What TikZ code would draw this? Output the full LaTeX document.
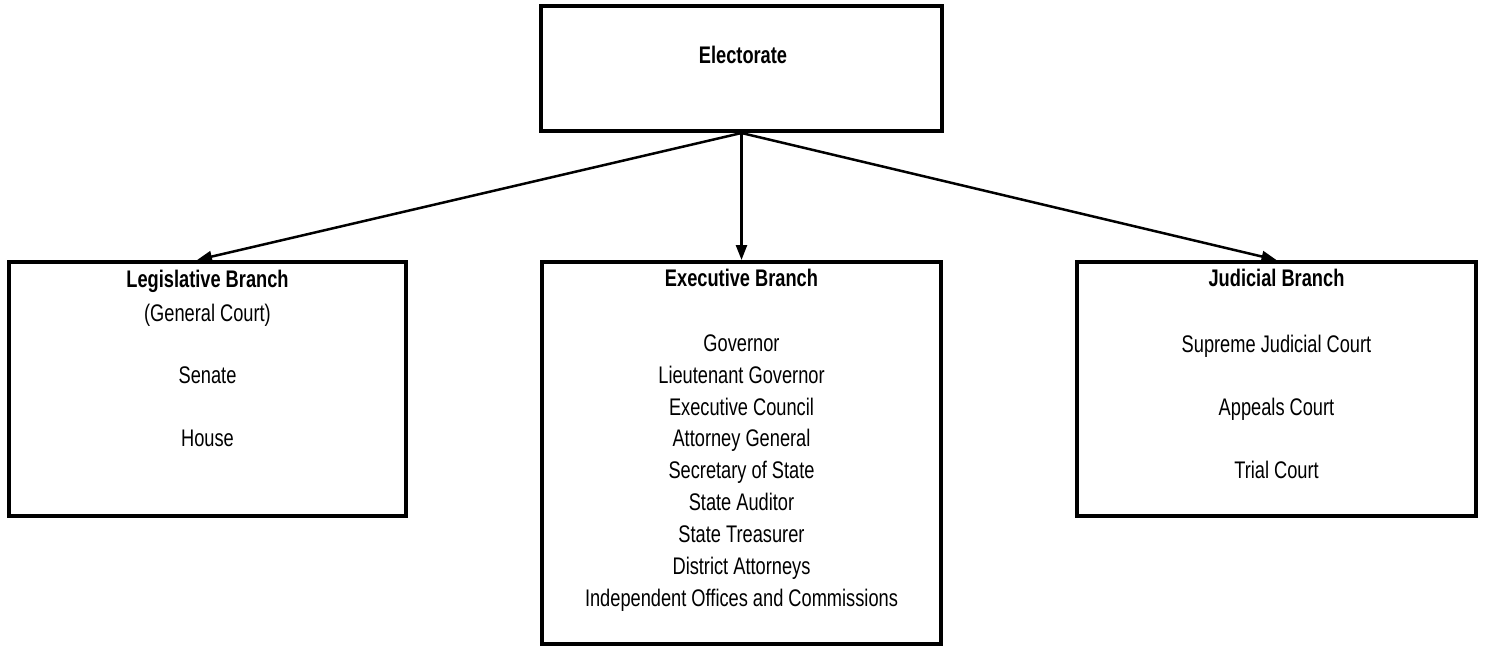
\documentclass[tikz,border=0pt]{standalone}
\usepackage{fontspec}
\setmainfont[FakeStretch=0.76]{Liberation Sans}
\usetikzlibrary{arrows.meta}
\begin{document}
\begin{tikzpicture}[x=1pt,y=-1pt,
  box/.style={draw=black, line width=4pt, rectangle, inner sep=0pt, fill=white},
  lbl/.style={anchor=base, inner sep=0pt, font=\fontsize{24}{30}\selectfont},
  ttl/.style={anchor=base, inner sep=0pt, font=\fontsize{24}{30}\selectfont\bfseries},
  arr/.style={line width=2.5pt, -{Triangle[length=15pt,width=11pt]}}]
\useasboundingbox (0,0) rectangle (1485,648);
% boxes
\node[box, minimum width=401pt, minimum height=125pt] (elect) at (741.5,68.5) {};
\node[box, minimum width=397pt, minimum height=254pt] (leg) at (207.5,389) {};
\node[box, minimum width=399pt, minimum height=382pt] (exec) at (741.5,453) {};
\node[box, minimum width=399pt, minimum height=254pt] (jud) at (1276.5,389) {};
% texts
\node[ttl] (telect) at (743,63) {Electorate};
\node[ttl] (tleg) at (207.5,287) {Legislative Branch};
\node[lbl] (tgc) at (207.5,321) {(General Court)};
\node[lbl] (tsen) at (207.5,383) {Senate};
\node[lbl] (thouse) at (207.5,446) {House};
\node[ttl] (texec) at (741.5,286) {Executive Branch};
\node[lbl] (e1) at (741.5,351) {Governor};
\node[lbl] (e2) at (741.5,383) {Lieutenant Governor};
\node[lbl] (e3) at (741.5,415) {Executive Council};
\node[lbl] (e4) at (741.5,446.5) {Attorney General};
\node[lbl] (e5) at (741.5,478) {Secretary of State};
\node[lbl] (e6) at (741.5,510) {State Auditor};
\node[lbl] (e7) at (741.5,542) {State Treasurer};
\node[lbl] (e8) at (741.5,574) {District Attorneys};
\node[lbl] (e9) at (741.5,606) {Independent Offices and Commissions};
\node[ttl] (tjud) at (1276.5,286) {Judicial Branch};
\node[lbl] (j1) at (1276.5,352) {Supreme Judicial Court};
\node[lbl] (j2) at (1276.5,415) {Appeals Court};
\node[lbl] (j3) at (1276.5,478) {Trial Court};
% connectors
\draw[arr] (elect.south) -- ([xshift=-10.5pt]leg.north);
\draw[arr] (elect.south) -- (exec.north);
\draw[arr] (elect.south) -- (jud.north);
\end{tikzpicture}
\end{document}
